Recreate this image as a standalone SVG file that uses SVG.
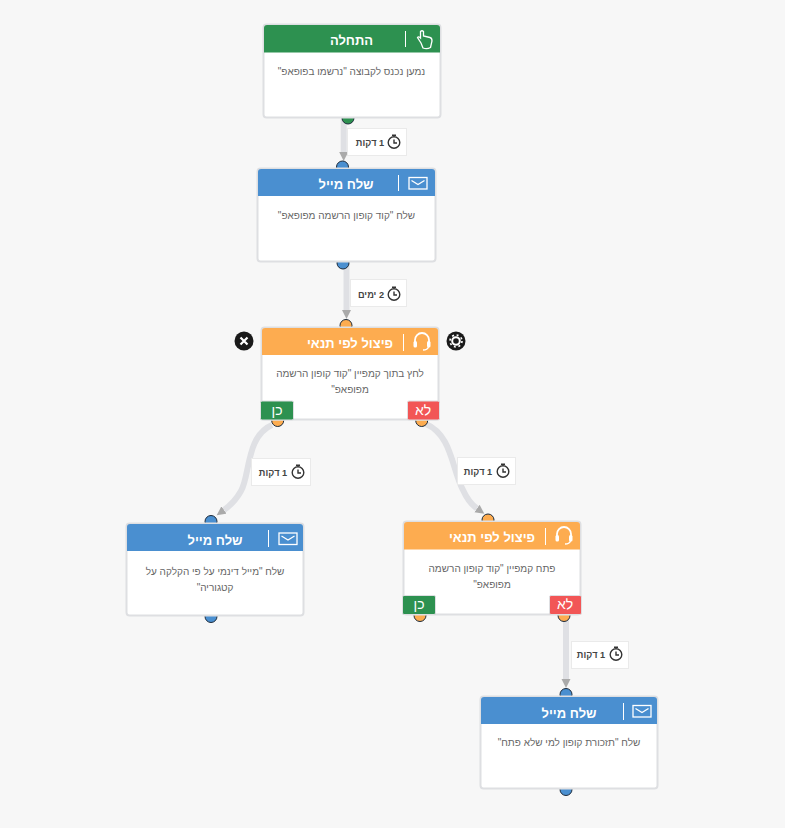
<svg xmlns="http://www.w3.org/2000/svg" xmlns:xlink="http://www.w3.org/1999/xlink" width="785" height="828" viewBox="0 0 785 828">
<style>
text{font-family:"Liberation Sans",Arial,sans-serif;direction:rtl;text-anchor:middle}
.box{fill:#fff;stroke:#dedfe2;stroke-width:2}
.title{fill:#fff;font-size:13px;font-weight:bold}
.body{fill:#666;font-size:10px}
.sep{stroke:#fff;stroke-width:1}
.conn{fill:none;stroke:#dfe0e4;stroke-width:6}
.lab{fill:#fff;stroke:#eaeaea;stroke-width:1}
.labt{fill:#444;font-size:9.2px;font-weight:bold}
.port{stroke:#1c2a3a;stroke-width:1}
.badge{fill:#fff;font-size:14px}
.ic{fill:none;stroke:#fff;stroke-width:1.3}
.clk{fill:none;stroke:#333;stroke-width:1.4}
</style>
<defs>
<marker id="arr" markerUnits="userSpaceOnUse" markerWidth="10" markerHeight="10" refX="0" refY="4.500" orient="auto"><path d="M0 0L9 4.500L0 9Z" fill="#aaa"/></marker>
<g id="mail"><rect x="-9" y="-5.500" width="18" height="11.500" class="ic"/><path d="M-6.500 -2.500L0 1.500L6.500 -2.500" class="ic"/></g>
<g id="phones"><path d="M-7 2V-1A7 7 0 0 1 7 -1V2" fill="none" stroke="#fff" stroke-width="1.800"/><rect x="-8.500" y="0" width="3.500" height="6.500" rx="1.500" fill="#fff"/><rect x="5" y="0" width="3.500" height="6.500" rx="1.500" fill="#fff"/><path d="M6.500 6Q5.500 9 1 9" class="ic"/></g>
<g id="clock"><circle cx="0" cy="0.500" r="5.800" class="clk"/><path d="M-2 -6.800H2M0 -2.500V1H3" class="clk"/></g>
</defs>
<rect width="785" height="828" fill="#f7f7f7"/>

<g id="connectors">
<path d="M343.700 119V152" class="conn" marker-end="url(#arr)"/>
<path d="M346.500 264V310" class="conn" marker-end="url(#arr)"/>
<path d="M272 425C246 436 250 476 241 491C236 500 231 505 224 510" class="conn" marker-end="url(#arr)"/>
<path d="M426 424C452 435 452 470 463 490C467 499 472 505 477 508.500" class="conn" marker-end="url(#arr)"/>
<path d="M566 618V679" class="conn" marker-end="url(#arr)"/>
</g>

<g id="ports">
<circle cx="348" cy="118" r="6" fill="#2d9150" class="port"/>
<circle cx="342.500" cy="167" r="6" fill="#4a8fd0" class="port"/>
<circle cx="343" cy="263" r="6" fill="#4a8fd0" class="port"/>
<circle cx="346" cy="325.500" r="6" fill="#fdac50" class="port"/>
<circle cx="277.700" cy="420.500" r="6" fill="#fdac50" class="port"/>
<circle cx="421.700" cy="420.500" r="6" fill="#fdac50" class="port"/>
<circle cx="211" cy="521.500" r="6" fill="#4a8fd0" class="port"/>
<circle cx="211" cy="616.500" r="6" fill="#4a8fd0" class="port"/>
<circle cx="488" cy="520" r="6" fill="#fdac50" class="port"/>
<circle cx="420" cy="615.500" r="6" fill="#fdac50" class="port"/>
<circle cx="564" cy="615.500" r="6" fill="#fdac50" class="port"/>
<circle cx="566" cy="694.500" r="6" fill="#4a8fd0" class="port"/>
<circle cx="566" cy="789.500" r="6" fill="#4a8fd0" class="port"/>
</g>

<g id="labels">
<g id="label-1"><rect x="347.500" y="128.500" width="59" height="27" class="lab"/><text x="370" y="146" class="labt">1 דקות</text><use xlink:href="#clock" x="394" y="142"/></g>
<g id="label-2"><rect x="350.500" y="279.500" width="56" height="27" class="lab"/><text x="371" y="298" class="labt">2 ימים</text><use xlink:href="#clock" x="394" y="294"/></g>
<g id="label-3"><rect x="251.500" y="458.500" width="59" height="27" class="lab"/><text x="273" y="476" class="labt">1 דקות</text><use xlink:href="#clock" x="298" y="472"/></g>
<g id="label-4"><rect x="457.500" y="457.500" width="58" height="27" class="lab"/><text x="478" y="475" class="labt">1 דקות</text><use xlink:href="#clock" x="503" y="471"/></g>
<g id="label-5"><rect x="571.500" y="641.500" width="57" height="27" class="lab"/><text x="591" y="658" class="labt">1 דקות</text><use xlink:href="#clock" x="616" y="654"/></g>
</g>

<g id="node-start">
<rect x="263.500" y="24.500" width="177" height="93" rx="3" class="box"/>
<path d="M264 28a3 3 0 0 1 3-3H437a3 3 0 0 1 3 3V52.500H264Z" fill="#2d9150"/>
<path d="M405.500 31V47" class="sep"/>
<path d="M421 43L417.500 37.500Q418.500 36 420.500 38V31.500Q422 30 423.500 31.500V36L430 37.500Q432 38 432 41L430.500 47.500Q427 49.500 423 48Z" class="ic"/>
<text x="351.500" y="44.500" class="title">התחלה</text>
<text x="351.500" y="75" class="body">נמען נכנס לקבוצה "נרשמו בפופאפ"</text>
</g>

<g id="node-mail-1">
<rect x="257.500" y="168.500" width="178" height="93" rx="3" class="box"/>
<path d="M258 172a3 3 0 0 1 3-3H432a3 3 0 0 1 3 3V196H258Z" fill="#4a8fd0"/>
<path d="M398.500 175V191" class="sep"/>
<use xlink:href="#mail" x="418" y="183"/>
<text x="346" y="188.500" class="title">שלח מייל</text>
<text x="346.500" y="219" class="body">שלח "קוד קופון הרשמה מפופאפ"</text>
</g>

<g id="node-split-1">
<rect x="261.500" y="327.500" width="177" height="92" rx="3" class="box"/>
<path d="M262 331a3 3 0 0 1 3-3H435a3 3 0 0 1 3 3V355H262Z" fill="#fdac50"/>
<path d="M403.500 334V351" class="sep"/>
<use xlink:href="#phones" x="422" y="341"/>
<text x="350" y="347.500" class="title">פיצול לפי תנאי</text>
<text x="350" y="377" class="body">לחץ בתוך קמפיין "קוד קופון הרשמה</text>
<text x="350" y="393" class="body">מפופאפ"</text>
<rect x="260.500" y="401" width="33" height="19" rx="1.500" fill="#2d9150" stroke="#dedfe2"/>
<text x="277" y="415" class="badge">כן</text>
<rect x="407.500" y="401" width="32" height="19" rx="1.500" fill="#f25656" stroke="#dedfe2"/>
<text x="423" y="415" class="badge">לא</text>
<circle cx="244" cy="341" r="9.500" fill="#1a1a1a"/>
<path d="M240.500 337.500L247.500 344.500M247.500 337.500L240.500 344.500" stroke="#fff" stroke-width="2.200"/>
<circle cx="456" cy="341" r="9.500" fill="#1a1a1a"/>
<circle cx="456" cy="341" r="3.800" fill="none" stroke="#fff" stroke-width="2"/>
<circle cx="456" cy="341" r="6" fill="none" stroke="#fff" stroke-width="1.600" stroke-dasharray="2 2.700"/>
</g>

<g id="node-mail-2">
<rect x="126.500" y="523.500" width="177" height="92" rx="3" class="box"/>
<path d="M127 527a3 3 0 0 1 3-3H300a3 3 0 0 1 3 3V551H127Z" fill="#4a8fd0"/>
<path d="M268.500 530V547" class="sep"/>
<use xlink:href="#mail" x="288" y="538.500"/>
<text x="215" y="544.500" class="title">שלח מייל</text>
<text x="215" y="575" class="body">שלח "מייל דינמי על פי הקלקה על</text>
<text x="215" y="591" class="body">קטגוריה"</text>
</g>

<g id="node-split-2">
<rect x="403.500" y="521.500" width="177" height="93" rx="3" class="box"/>
<path d="M404 525a3 3 0 0 1 3-3H577a3 3 0 0 1 3 3V549.500H404Z" fill="#fdac50"/>
<path d="M545.500 528V545" class="sep"/>
<use xlink:href="#phones" x="564" y="535"/>
<text x="492" y="541.500" class="title">פיצול לפי תנאי</text>
<text x="492" y="572" class="body">פתח קמפיין "קוד קופון הרשמה</text>
<text x="492" y="588" class="body">מפופאפ"</text>
<rect x="402.500" y="595.500" width="33" height="19" rx="1.500" fill="#2d9150" stroke="#dedfe2"/>
<text x="419" y="609" class="badge">כן</text>
<rect x="549.500" y="595.500" width="32" height="19" rx="1.500" fill="#f25656" stroke="#dedfe2"/>
<text x="565" y="609" class="badge">לא</text>
</g>

<g id="node-mail-3">
<rect x="480.500" y="696.500" width="177" height="92" rx="3" class="box"/>
<path d="M481 700a3 3 0 0 1 3-3H654a3 3 0 0 1 3 3V724H481Z" fill="#4a8fd0"/>
<path d="M623.500 703V720" class="sep"/>
<use xlink:href="#mail" x="642" y="711"/>
<text x="569" y="717.500" class="title">שלח מייל</text>
<text x="569" y="746" class="body">שלח "תזכורת קופון למי שלא פתח"</text>
</g>
</svg>
